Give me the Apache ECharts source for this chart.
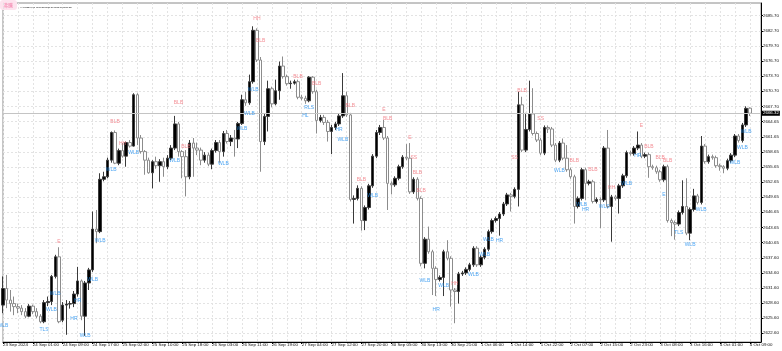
<!DOCTYPE html>
<html>
<head>
<meta charset="utf-8">
<script src="https://cdn.jsdelivr.net/npm/echarts@6/dist/echarts.min.js"></script>
<style>
  html, body { margin: 0; padding: 0; background: #fff; }
  #chart { width: 782px; height: 351px; }
</style>
</head>
<body>
<div id="chart"></div>
<script>
// H1 bars, 23 Sep 2024 16:00 .. 4 Oct 2024 09:00
const opens = [
  2628.2, 2631.5, 2629.2, 2628.5, 2627.9, 2627.6, 2626.9, 2626.0, 2628.0, 2626.9,
  2626.0, 2624.9, 2628.7, 2628.9, 2633.9, 2637.8, 2625.2, 2628.2, 2628.4, 2628.5,
  2630.4, 2633.0, 2626.0, 2632.6, 2635.2, 2643.3, 2642.8, 2653.2, 2653.7, 2657.0,
  2662.5, 2656.4, 2658.9, 2657.8, 2660.5, 2659.8, 2670.0, 2661.4, 2658.7, 2657.0,
  2654.5, 2656.7, 2655.9, 2656.7, 2655.7, 2657.4, 2659.4, 2664.2, 2658.7, 2657.7,
  2653.7, 2660.4, 2659.4, 2659.0, 2657.0, 2658.0, 2656.2, 2658.9, 2660.5, 2658.7,
  2662.3, 2660.7, 2661.4, 2661.2, 2664.3, 2669.0, 2668.4, 2672.6, 2682.8, 2676.9,
  2660.7, 2665.7, 2671.2, 2668.2, 2670.8, 2675.7, 2673.6, 2672.2, 2672.3, 2672.6,
  2669.5, 2669.3, 2668.8, 2673.5, 2670.6, 2664.9, 2665.5, 2664.5, 2662.7, 2663.5,
  2664.2, 2665.8, 2669.8, 2666.0, 2649.2, 2649.4, 2651.4, 2645.0, 2647.6, 2651.9,
  2657.8, 2662.5, 2663.5, 2661.4, 2652.4, 2652.1, 2653.4, 2655.7, 2657.6, 2657.4,
  2650.7, 2653.2, 2649.4, 2636.5, 2641.3, 2638.8, 2635.5, 2633.3, 2633.7, 2638.8,
  2637.5, 2631.2, 2630.9, 2634.4, 2634.6, 2635.3, 2636.2, 2639.5, 2636.2, 2637.7,
  2639.3, 2642.8, 2645.0, 2645.4, 2646.3, 2648.3, 2650.1, 2649.8, 2651.2, 2668.0,
  2659.0, 2663.1, 2666.2, 2662.3, 2661.0, 2658.4, 2663.5, 2663.2, 2660.0, 2657.0,
  2660.4, 2657.4, 2655.1, 2653.7, 2647.8, 2649.4, 2655.1, 2652.4, 2652.7, 2648.8,
  2649.2, 2649.1, 2659.4, 2647.8, 2649.7, 2649.4, 2651.9, 2653.9, 2658.5, 2658.3,
  2659.4, 2660.0, 2657.8, 2658.1, 2655.7, 2655.5, 2654.7, 2653.1, 2655.7, 2645.0,
  2644.6, 2644.3, 2646.6, 2647.8, 2642.5, 2647.2, 2649.9, 2648.6, 2659.8, 2656.7,
  2657.7, 2657.5, 2655.9, 2655.7, 2655.4, 2656.9, 2658.0, 2661.8, 2660.9, 2664.0,
  2667.33
];
const closes = [
  2631.5, 2629.2, 2628.5, 2627.9, 2627.6, 2626.9, 2626.0, 2628.0, 2626.9, 2626.0,
  2624.9, 2628.7, 2628.9, 2633.9, 2637.8, 2624.9, 2628.2, 2628.4, 2628.5, 2630.4,
  2633.0, 2626.0, 2632.6, 2635.2, 2643.3, 2642.8, 2653.2, 2653.7, 2657.0, 2662.5,
  2656.4, 2658.9, 2657.8, 2660.5, 2659.8, 2670.0, 2661.4, 2658.7, 2657.0, 2654.5,
  2656.7, 2655.9, 2656.7, 2655.7, 2657.4, 2659.4, 2664.2, 2658.7, 2657.7, 2653.7,
  2660.4, 2659.4, 2659.0, 2657.0, 2658.0, 2656.2, 2658.9, 2660.5, 2658.7, 2662.3,
  2660.7, 2661.4, 2661.2, 2664.3, 2669.0, 2668.4, 2672.6, 2682.8, 2676.9, 2660.7,
  2665.7, 2671.2, 2668.2, 2670.8, 2675.7, 2673.6, 2672.2, 2672.3, 2672.6, 2669.5,
  2669.3, 2668.8, 2673.5, 2670.6, 2664.9, 2665.5, 2664.5, 2662.7, 2663.5, 2664.2,
  2665.8, 2669.8, 2666.0, 2649.2, 2649.4, 2651.4, 2645.0, 2647.6, 2651.9, 2657.8,
  2662.5, 2663.5, 2661.4, 2652.4, 2652.1, 2653.4, 2655.7, 2657.6, 2657.4, 2650.7,
  2653.2, 2649.4, 2636.5, 2641.3, 2638.8, 2635.5, 2633.3, 2633.7, 2638.8, 2637.5,
  2631.2, 2630.9, 2634.4, 2634.6, 2635.3, 2636.2, 2639.5, 2636.2, 2637.7, 2639.3,
  2642.8, 2645.0, 2645.4, 2646.3, 2648.3, 2650.1, 2649.8, 2651.2, 2668.0, 2659.0,
  2663.1, 2666.2, 2662.3, 2661.0, 2658.4, 2663.5, 2663.2, 2660.0, 2657.0, 2660.4,
  2657.4, 2655.1, 2653.7, 2647.8, 2649.4, 2655.1, 2652.4, 2652.7, 2648.8, 2649.2,
  2649.1, 2659.4, 2647.8, 2649.7, 2649.4, 2651.9, 2653.9, 2658.5, 2658.3, 2659.4,
  2660.0, 2657.8, 2658.1, 2655.7, 2655.5, 2654.7, 2653.1, 2655.7, 2645.0, 2644.6,
  2644.3, 2646.6, 2647.8, 2642.5, 2647.2, 2649.9, 2648.6, 2659.8, 2656.7, 2657.7,
  2657.5, 2655.9, 2655.7, 2655.4, 2656.9, 2658.0, 2661.8, 2660.9, 2664.0, 2667.3,
  2666.32
];
const lows = [
  2626.6, 2627.6, 2626.9, 2626.2, 2626.6, 2626.2, 2625.6, 2625.8, 2626.4, 2625.6,
  2624.6, 2624.6, 2628.0, 2628.2, 2633.5, 2624.6, 2624.8, 2622.3, 2627.5, 2627.8,
  2629.9, 2625.2, 2622.1, 2631.2, 2634.8, 2640.5, 2642.5, 2652.8, 2653.4, 2656.5,
  2656.2, 2656.0, 2657.5, 2655.7, 2659.5, 2659.7, 2660.0, 2658.3, 2654.1, 2654.3,
  2651.4, 2655.3, 2652.7, 2653.7, 2655.2, 2657.0, 2659.0, 2657.7, 2653.4, 2649.8,
  2653.2, 2653.7, 2658.0, 2656.0, 2656.5, 2655.8, 2655.2, 2658.5, 2656.5, 2657.7,
  2660.3, 2659.8, 2657.7, 2659.4, 2664.0, 2667.8, 2668.0, 2672.2, 2676.5, 2654.7,
  2660.0, 2662.7, 2667.5, 2667.9, 2669.0, 2673.2, 2671.8, 2671.2, 2672.0, 2669.1,
  2668.9, 2668.2, 2668.5, 2670.2, 2662.3, 2664.5, 2664.0, 2660.7, 2658.2, 2663.0,
  2663.8, 2665.4, 2665.6, 2648.8, 2644.4, 2649.0, 2643.0, 2643.1, 2647.2, 2651.5,
  2657.4, 2662.0, 2661.0, 2647.1, 2650.2, 2651.7, 2653.0, 2655.3, 2657.0, 2650.3,
  2650.3, 2649.0, 2635.9, 2635.5, 2638.4, 2630.2, 2630.0, 2632.9, 2630.0, 2637.1,
  2627.9, 2624.6, 2628.5, 2634.0, 2634.2, 2634.9, 2635.8, 2635.8, 2635.8, 2637.3,
  2638.9, 2642.4, 2644.6, 2642.0, 2645.9, 2647.9, 2646.8, 2649.4, 2647.8, 2658.6,
  2658.6, 2662.7, 2661.9, 2660.6, 2658.0, 2658.0, 2662.4, 2659.6, 2656.6, 2656.6,
  2657.0, 2654.7, 2653.3, 2644.4, 2647.4, 2649.0, 2649.1, 2652.0, 2648.4, 2648.4,
  2643.5, 2648.7, 2647.4, 2640.8, 2649.0, 2646.4, 2651.5, 2653.5, 2657.9, 2657.9,
  2659.0, 2657.4, 2657.4, 2653.5, 2655.1, 2654.3, 2652.7, 2652.7, 2644.6, 2641.9,
  2641.2, 2643.9, 2646.2, 2642.1, 2641.1, 2646.8, 2648.2, 2648.2, 2656.3, 2656.3,
  2657.1, 2655.5, 2654.9, 2654.4, 2655.0, 2656.5, 2657.6, 2660.5, 2660.5, 2663.6,
  2665.77
];
const highs = [
  2633.9, 2634.2, 2631.2, 2629.9, 2628.5, 2628.2, 2627.6, 2628.4, 2628.3, 2627.6,
  2626.4, 2629.2, 2629.9, 2634.2, 2638.2, 2639.7, 2628.8, 2629.2, 2629.0, 2631.0,
  2635.8, 2633.3, 2633.0, 2635.6, 2646.8, 2647.1, 2654.4, 2654.7, 2657.5, 2662.7,
  2662.9, 2659.3, 2660.4, 2660.7, 2661.0, 2670.3, 2670.3, 2662.0, 2659.0, 2657.5,
  2657.0, 2657.7, 2657.2, 2657.5, 2658.0, 2660.0, 2665.8, 2664.6, 2659.0, 2659.0,
  2661.0, 2661.4, 2660.5, 2659.5, 2658.6, 2658.5, 2659.3, 2661.0, 2661.0, 2662.8,
  2663.0, 2662.0, 2663.0, 2664.6, 2670.0, 2670.6, 2674.0, 2683.6, 2683.2, 2677.5,
  2666.2, 2672.8, 2671.6, 2673.0, 2676.6, 2677.6, 2674.0, 2672.8, 2673.0, 2673.0,
  2670.0, 2669.8, 2673.7, 2673.7, 2671.0, 2666.0, 2666.0, 2665.0, 2664.0, 2664.6,
  2666.2, 2674.3, 2670.6, 2666.4, 2650.0, 2652.0, 2651.8, 2648.0, 2652.3, 2658.2,
  2663.0, 2664.0, 2665.0, 2661.8, 2652.8, 2653.8, 2656.1, 2658.0, 2660.2, 2660.4,
  2653.6, 2653.6, 2649.8, 2641.7, 2643.8, 2639.2, 2635.9, 2634.1, 2639.2, 2641.1,
  2637.9, 2631.6, 2634.8, 2635.0, 2635.7, 2636.6, 2639.9, 2639.9, 2638.1, 2639.7,
  2643.2, 2645.4, 2645.8, 2646.7, 2648.7, 2650.5, 2650.5, 2651.6, 2670.6, 2669.6,
  2666.4, 2672.8, 2671.3, 2662.7, 2661.4, 2663.9, 2663.9, 2663.6, 2660.4, 2660.8,
  2661.3, 2660.0, 2655.5, 2654.1, 2649.8, 2655.5, 2655.5, 2653.1, 2653.1, 2649.6,
  2649.6, 2659.8, 2663.0, 2650.1, 2650.1, 2652.3, 2654.3, 2658.9, 2658.9, 2659.8,
  2662.7, 2660.4, 2658.5, 2658.5, 2656.1, 2655.9, 2655.1, 2656.1, 2656.1, 2645.4,
  2645.0, 2647.0, 2653.0, 2653.4, 2647.6, 2651.3, 2650.3, 2661.8, 2660.2, 2658.1,
  2658.1, 2657.9, 2656.3, 2656.0, 2657.3, 2658.4, 2662.2, 2662.2, 2664.4, 2667.7,
  2667.50
];

// pattern tags drawn on the chart: [bar index, price, text]
const redTags = [
  [15, 2640.9, 'E'], [30, 2664.7, 'BLB'], [32, 2660.2, 'HH'], [47, 2668.4, 'BLB'],
  [49, 2659.7, 'BLB'], [68, 2685.2, 'HH'], [69, 2680.7, 'BLB'], [79, 2673.6, 'BLB'],
  [84, 2672.3, 'BLB'], [93, 2667.8, 'BLB'], [96, 2653.2, 'BLB'], [102, 2667.0, 'E'],
  [103, 2665.3, 'BLB'], [109, 2661.5, 'E'], [110, 2657.5, 'SS'], [111, 2654.5, 'BLB'],
  [112, 2651.0, 'BLB'], [121, 2632.5, 'HH'], [137, 2657.5, 'SS'], [139, 2670.8, 'BLB'],
  [144, 2665.3, 'SS'], [153, 2657.0, 'BLB'], [158, 2655.2, 'BLB'], [163, 2651.5, 'HH'],
  [171, 2663.8, 'E'], [173, 2659.7, 'BLB'], [176, 2657.5, 'BLB'], [178, 2657.0, 'BLB']
];
const blueTags = [
  [0, 2624.2, 'WLB'], [11, 2623.4, 'TLS'], [13, 2627.4, 'WLB'], [14, 2630.5, 'WLB'],
  [19, 2625.6, 'HR'], [20, 2629.1, 'HR'], [22, 2622.1, 'WLB'], [24, 2633.2, 'WLB'],
  [26, 2641.1, 'WLB'], [29, 2655.1, 'WLB'], [35, 2658.4, 'WLB'], [46, 2657.0, 'WLB'],
  [59, 2656.4, 'WLB'], [64, 2663.3, 'WLB'], [66, 2666.2, 'WLB'], [67, 2671.0, 'WLB'],
  [81, 2665.9, 'HL'], [82, 2667.5, 'RLS'], [90, 2663.1, 'HR'], [91, 2661.0, 'WLB'],
  [99, 2649.9, 'WLB'], [113, 2633.1, 'WLB'], [116, 2627.4, 'HR'], [118, 2632.0, 'WLB'],
  [126, 2634.2, 'WLB'], [129, 2638.2, 'WLB'], [130, 2641.3, 'WLB'], [133, 2641.1, 'HR'],
  [149, 2654.9, 'WLB'], [155, 2648.2, 'WLB'], [156, 2647.2, 'HR'], [161, 2647.8, 'WLS'],
  [167, 2652.4, 'WLB'], [170, 2658.0, 'HR'], [177, 2650.1, 'E'], [181, 2642.6, 'TLS'],
  [184, 2640.2, 'WLB'], [187, 2647.2, 'WLB'], [196, 2656.5, 'WLB'], [198, 2659.4, 'WLB'],
  [199, 2662.7, 'WLB']
];

const xTickLabels = [
  '23 Sep 2024', '24 Sep 01:00', '24 Sep 09:00', '24 Sep 17:00', '25 Sep 02:00',
  '25 Sep 10:00', '25 Sep 18:00', '26 Sep 03:00', '26 Sep 11:00', '26 Sep 19:00',
  '27 Sep 04:00', '27 Sep 12:00', '27 Sep 20:00', '30 Sep 05:00', '30 Sep 13:00',
  '30 Sep 21:00', '1 Oct 06:00', '1 Oct 14:00', '1 Oct 22:00', '2 Oct 07:00',
  '2 Oct 15:00', '2 Oct 23:00', '3 Oct 08:00', '3 Oct 16:00', '4 Oct 01:00',
  '4 Oct 09:00'
];
const yTickValues = [
  2622.60, 2625.60, 2628.60, 2631.60, 2634.60, 2637.60, 2640.65, 2643.65,
  2646.65, 2649.65, 2652.65, 2655.65, 2658.65, 2661.65, 2664.65, 2667.70,
  2670.70, 2673.70, 2676.70, 2679.70, 2682.70, 2685.70
];

const symbol = 'XAUUSD.a,H1';

// bar times: hourly, no 00:00 bar, no weekend; 3 empty slots for the right shift
const times = [];
let t = new Date(2024, 8, 23, 16);
while (times.length < opens.length + 3) {
  const d = t.getDay();
  const h = t.getHours();
  if (h !== 0 && d !== 0 && d !== 6) {
    times.push(t.getFullYear() + '.' + (t.getMonth() + 1) + '.' + t.getDate() + ' ' + h + ':00');
  }
  t = new Date(t.getTime() + 3600 * 1000);
}

const candles = opens.map((o, i) => [o, closes[i], lows[i], highs[i]]);
const last = candles[candles.length - 1];

const font = 'Liberation Sans';
const small = 4.4;

const tagSeries = (data, color) => ({
  type: 'scatter',
  data,
  symbolSize: 1,
  itemStyle: { color: 'rgba(0,0,0,0)' },
  silent: true,
  z: 5,
  label: {
    show: true,
    position: 'inside',
    formatter: (p) => p.value[2],
    color,
    fontFamily: font,
    fontSize: 5,
  },
  labelLayout: { hideOverlap: false },
});

const chart = echarts.init(document.getElementById('chart'))

chart.setOption({
  animation: false,
  backgroundColor: '#fff',
  title: {
    text: symbol + '  ' + last[0].toFixed(2) + ' ' + last[3].toFixed(2) + ' ' + last[2].toFixed(2) + ' ' + last[1].toFixed(2),
    left: 15,
    top: 1,
    textStyle: {
      fontFamily: font,
      fontSize: 2.3,
      fontWeight: 'normal',
      color: '#000',
    },
  },
  graphic: [
    {
      type: 'rect',
      left: 0,
      top: 0,
      shape: { width: 17, height: 10, r: 3 },
      style: { fill: '#fde3ee' },
    },
    {
      type: 'text',
      left: 3,
      top: 2.5,
      style: { text: '沸騰', fill: '#f27aa6', font: '5px "Noto Sans CJK JP"' },
    },
  ],
  grid: {
    left: 2,
    right: 21,
    top: 3,
    bottom: 9,
    show: true,
    borderColor: '#8a8a8a',
    borderWidth: 1,
  },
  xAxis: {
    type: 'category',
    data: times,
    boundaryGap: false,
    axisLine: { lineStyle: { color: '#000' } },
    axisTick: { show: true, interval: 7, length: 2, lineStyle: { color: '#000' } },
    axisLabel: {
      interval: 7,
      align: 'left',
      margin: 1,
      fontFamily: font,
      fontSize: small,
      color: '#111',
      formatter: (v, i) => xTickLabels[i / 8] || '',
    },
    splitLine: {
      show: true,
      interval: 3,
      lineStyle: { color: '#e3e3e3', type: [2, 2], width: 1 },
    },
  },
  yAxis: {
    type: 'value',
    position: 'right',
    scale: true,
    min: 2620.87,
    max: 2688.23,
    axisLine: { show: true, lineStyle: { color: '#000' } },
    axisTick: { show: true, length: 2, customValues: yTickValues, lineStyle: { color: '#000' } },
    axisLabel: {
      customValues: yTickValues,
      margin: 2,
      fontFamily: font,
      fontSize: small,
      color: '#111',
      formatter: (v) => v.toFixed(2),
    },
    splitLine: {
      show: true,
      lineStyle: { color: '#e3e3e3', type: [2, 2], width: 1 },
    },
  },
  series: [
    {
      type: 'candlestick',
      data: candles,
      barWidth: 3,
      itemStyle: {
        color: '#000',
        color0: '#fff',
        borderColor: '#3a3a3a',
        borderColor0: '#8c8c8c',
        borderColorDoji: '#555',
        borderWidth: 1,
      },
      markLine: {
        silent: true,
        symbol: 'none',
        data: [{ yAxis: last[1] }],
        lineStyle: { color: '#c4c4c4', type: 'solid', width: 1 },
        label: {
          position: 'end',
          distance: 1,
          formatter: () => last[1].toFixed(2),
          backgroundColor: '#000',
          color: '#fff',
          fontFamily: font,
          fontSize: small,
          padding: [1, 1, 0, 1],
        },
      },
    },
    tagSeries(redTags, '#f0727a'),
    tagSeries(blueTags, '#1f8ef0'),
  ],
})
</script>
</body>
</html>
